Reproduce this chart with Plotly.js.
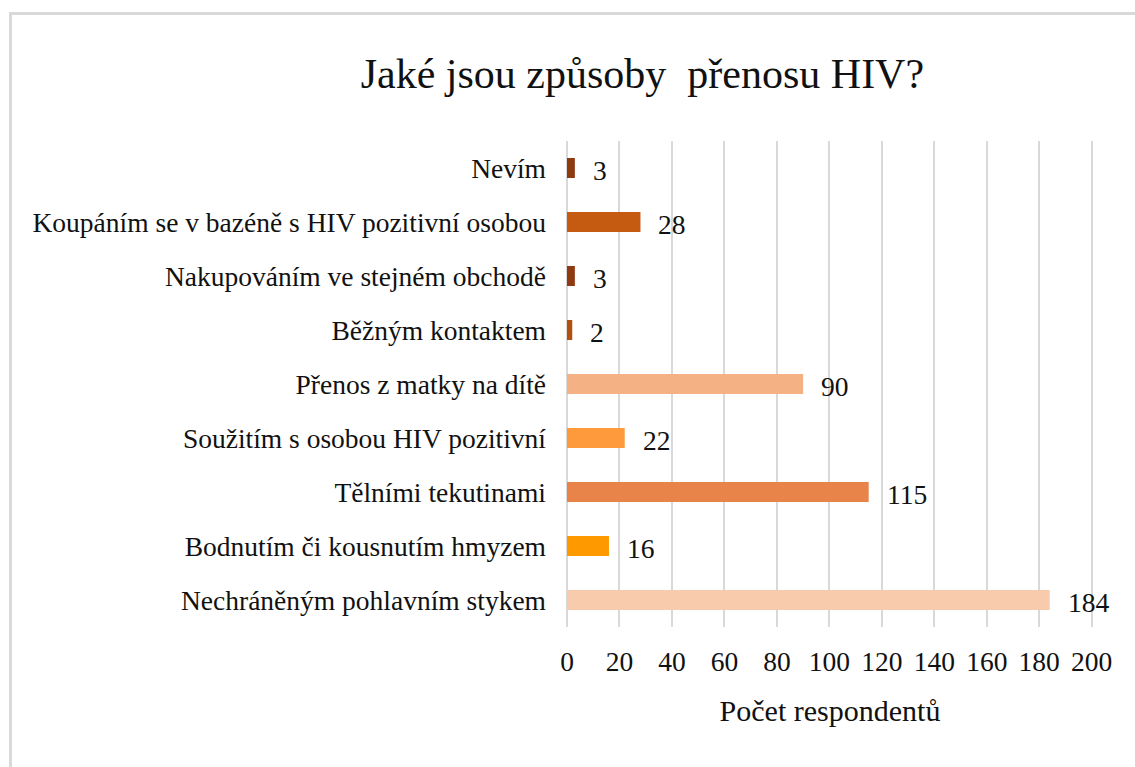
<!DOCTYPE html>
<html>
<head>
<meta charset="utf-8">
<script src="https://cdn.plot.ly/plotly-3.0.1.min.js"></script>
<style>
html,body{margin:0;padding:0;background:#fff;}
#wrap{position:relative;width:1135px;height:767px;overflow:hidden;}
#chart{width:1135px;height:767px;}
#frame{position:absolute;left:9px;top:12px;width:1140px;height:770px;border:3px solid #d9d9d9;pointer-events:none;box-sizing:border-box;}
</style>
</head>
<body>
<div id="wrap"><div id="chart"></div><div id="frame"></div></div>
<script>
const categories = [
  "Nechráněným pohlavním stykem",
  "Bodnutím či kousnutím hmyzem",
  "Tělními tekutinami",
  "Soužitím s osobou HIV pozitivní",
  "Přenos z matky na dítě",
  "Běžným kontaktem",
  "Nakupováním ve stejném obchodě",
  "Koupáním se v bazéně s HIV pozitivní osobou",
  "Nevím"
];
const values = [184, 16, 115, 22, 90, 2, 3, 28, 3];
const barColors = ["#f8cbad", "#ff9900", "#e8844a", "#ff9a3c", "#f4b183", "#b4500f", "#8e3b12", "#c55a11", "#8e3b12"];
const xTicks = [0, 20, 40, 60, 80, 100, 120, 140, 160, 180, 200];

const font = "Liberation Serif, Times New Roman, serif";
const fs = 27.5;

const trace = {
  type: "bar",
  orientation: "h",
  x: values,
  y: categories,
  marker: {color: barColors},
  width: 0.37,
  hoverinfo: "x+y"
};

const annotations = values.map((v, i) => ({
  x: v, y: categories[i], xref: "x", yref: "y",
  text: String(v), showarrow: false, xanchor: "left", yanchor: "middle",
  xshift: 16, yshift: -2,
  font: {family: font, size: fs, color: "#111"}
}));

const layout = {
  width: 1135, height: 767,
  margin: {l: 567, r: 42, t: 141, b: 140},
  paper_bgcolor: "#fff", plot_bgcolor: "#fff",
  font: {family: font, size: fs, color: "#111"},
  title: {
    text: "Jaké jsou způsoby  přenosu HIV?",
    font: {family: font, size: 42, color: "#111"},
    x: 0.566, xanchor: "center", xref: "container",
    y: 0.905, yanchor: "middle", yref: "container"
  },
  xaxis: {
    range: [0, 200.5], autorange: false,
    tickvals: xTicks, ticktext: xTicks.map(String),
    showgrid: true, gridcolor: "#d9d9d9", gridwidth: 2,
    zeroline: true, zerolinecolor: "#d9d9d9", zerolinewidth: 2,
    showline: false, ticks: "",
    ticklabelstandoff: 15,
    tickfont: {family: font, size: fs, color: "#111"},
    title: {text: "Počet respondentů", font: {family: font, size: 30, color: "#111"}, standoff: 24}
  },
  yaxis: {
    type: "category",
    categoryorder: "array", categoryarray: categories,
    showgrid: false, zeroline: false, showline: false, ticks: "",
    ticklabelstandoff: 20,
    tickfont: {family: font, size: fs, color: "#111"}
  },
  annotations: annotations,
  showlegend: false
};

Plotly.newPlot("chart", [trace], layout, {displayModeBar: false, staticPlot: true});
</script>
</body>
</html>
